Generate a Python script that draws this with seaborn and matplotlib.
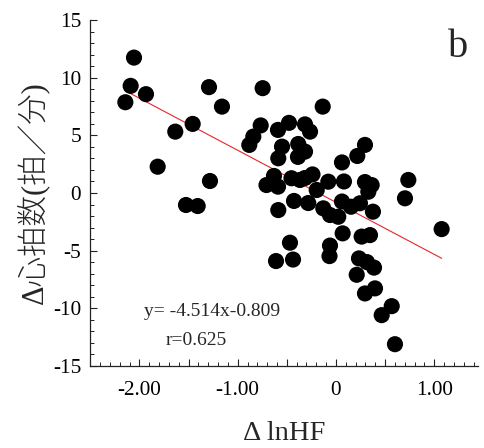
import numpy as np
import pandas as pd
import matplotlib
matplotlib.use("Agg")
import matplotlib.pyplot as plt
import seaborn as sns
from matplotlib.ticker import MultipleLocator

# Change in ln HF power vs. change in heart rate (beats/min)
delta_lnhf = [
    -2.055, -2.089, -1.933, -2.143, -1.292, -1.160, -1.458, -1.635, -1.814, -1.282,
    -1.526, -1.407, -0.746, -0.135, -0.766, -0.590, -0.478, -0.315, -0.264, -0.841,
    -0.882, -0.549, -0.384, -0.587, -0.387, -0.315, 0.061, 0.217, 0.295, -0.707,
    -0.631, -0.590, -0.453, -0.366, -0.315, -0.239, -0.078, 0.081, 0.295, 0.363,
    0.736, -0.196, 0.329, 0.702, -0.427, -0.282, -0.587, -0.129, -0.061, 0.023,
    0.061, 0.153, 0.244, 0.376, -0.468, -0.610, -0.437, -0.061, -0.066, 0.068,
    0.261, 0.346, 1.075, 0.234, 0.315, 0.387, 0.211, 0.295, 0.397, 0.465,
    0.567, 0.600,
]
delta_hr = [
    11.74, 9.29, 8.57, 7.87, 9.18, 7.49, 5.99, 5.32, 2.28, 1.04,
    -1.04, -1.13, 9.09, 7.49, 5.86, 5.47, 6.08, 5.95, 5.32, 4.89,
    4.17, 4.02, 4.25, 3.01, 3.13, 3.59, 2.65, 3.21, 4.17, 0.69,
    1.48, 0.55, 1.28, 1.13, 1.30, 1.61, 0.98, 1.00, 0.95, 0.69,
    1.13, 0.26, 0.11, -0.46, -0.69, -0.87, -1.48, -1.33, -1.91, -2.06,
    -0.74, -1.19, -0.89, -1.62, -4.31, -5.90, -5.77, -4.56, -5.47, -3.50,
    -3.78, -3.65, -3.13, -5.67, -5.99, -6.47, -7.09, -8.71, -8.27, -10.59,
    -9.81, -13.11,
]

# Regression reported on the panel
slope = -4.514
intercept = -0.809
r_value = 0.625

x_ticks = [-2.0, -1.5, -1.0, -0.5, 0.0, 0.5, 1.0]
x_tick_labels = ["-2.00", "", "-1.00", "", "0", "", "1.00"]
y_ticks = [-15, -10, -5, 0, 5, 10, 15]
y_tick_labels = ["-15", "-10", "-5", "0", "5", "10", "15"]

df = pd.DataFrame({"dlnhf": delta_lnhf, "dhr": delta_hr})

sns.set_style("ticks")
serif = ["Liberation Serif", "Noto Sans CJK JP", "DejaVu Sans"]
plt.rcParams["font.family"] = serif

fig = plt.figure(figsize=(4.85, 4.48), dpi=100)
ax = fig.add_axes([90.25 / 485, 82 / 448, (478.5 - 90.25) / 485, (428 - 82) / 448])

# fitted line over the observed range
fit_x = np.array([min(delta_lnhf), max(delta_lnhf)])
fit_df = pd.DataFrame({"x": fit_x, "y": slope * fit_x + intercept})
sns.lineplot(data=fit_df, x="x", y="y", ax=ax, color="#e8262b", linewidth=0.8, zorder=1)

sns.scatterplot(data=df, x="dlnhf", y="dhr", ax=ax, color="black", s=135,
                linewidth=0, edgecolor="none", zorder=3)

ax.set_xlim(-2.5, 1.45)
ax.set_ylim(-15, 15)
ax.set_xticks(x_ticks)
ax.set_xticklabels(x_tick_labels)
ax.set_yticks(y_ticks)
ax.set_yticklabels(y_tick_labels)
ax.xaxis.set_minor_locator(MultipleLocator(0.1))
ax.yaxis.set_minor_locator(MultipleLocator(1))

for side in ("top", "right"):
    ax.spines[side].set_visible(False)
for side in ("left", "bottom"):
    ax.spines[side].set_color("#222222")
    ax.spines[side].set_linewidth(0.9)

ax.tick_params(axis="both", which="major", direction="in", length=5, width=0.8,
               color="#222222", labelsize=15.3, labelcolor="black")
ax.tick_params(axis="both", which="minor", direction="in", length=2.8, width=0.7,
               color="#222222")
ax.tick_params(axis="x", which="major", pad=11)
ax.tick_params(axis="y", which="major", pad=6.5)

ax.set_xlabel("Δ lnHF", fontsize=20.5, labelpad=15, family=serif)
ax.set_ylabel("Δ心拍数(拍／分)", fontsize=22, labelpad=2, family=serif,
              fontweight="light")

ax.text(-1.95, -10.3, f"y= {slope}x{intercept}", fontsize=14, family=serif,
        ha="left", va="center")
ax.text(-1.73, -12.75, f"r={r_value}", fontsize=14, family=serif,
        ha="left", va="center")
ax.text(1.24, 12.6, "b", fontsize=29, family=serif, ha="center", va="center")

fig.savefig("out.png", dpi=100, facecolor="white")
